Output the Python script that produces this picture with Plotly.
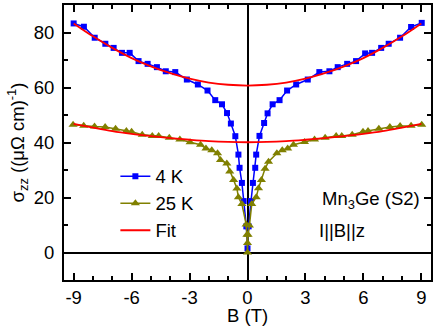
import plotly.graph_objects as go

# 4 K data (sigma_zz vs B)
b_4k = [-9.0, -8.47, -7.91, -7.36, -6.93, -6.5, -6.1, -5.64, -5.17, -4.69, -4.23, -3.74, -3.14, -2.57,
        -2.07, -1.67, -1.32, -1.06, -0.86, -0.63, -0.47, -0.41, -0.29, -0.2, -0.06, 0.0,
        0.06, 0.18, 0.28, 0.4, 0.45, 0.62, 0.86, 1.04, 1.3, 1.66, 2.05, 2.52, 3.12, 3.72, 4.24,
        4.67, 5.16, 5.62, 6.09, 6.45, 6.92, 7.31, 7.9, 8.47, 9.02]
s_4k = [83.3, 82.1, 78.1, 75.9, 74.4, 72.6, 72.6, 69.6, 68.6, 67.4, 65.9, 65.6, 62.9, 61.1,
        58.9, 55.4, 53.9, 50.7, 46.9, 42.3, 35.6, 30.8, 25.3, 18.7, 9.5, 1.5,
        9.5, 18.7, 25.3, 30.8, 35.6, 42.4, 47.1, 50.6, 53.9, 55.4, 58.9, 61.1, 62.9, 65.6, 65.9,
        67.4, 68.6, 69.6, 72.4, 72.6, 74.4, 75.9, 78.1, 82.0, 83.5]

# 25 K data
b_25k = [-9.03, -8.48, -7.92, -7.37, -6.83, -6.27, -6.0, -5.45, -4.93, -4.6, -4.05, -3.5, -2.97, -2.43,
         -2.15, -1.85, -1.55, -1.4, -1.07, -0.92, -0.72, -0.55, -0.47, -0.29, -0.07, -0.03, 0.0, 0.0,
         0.03, 0.1, 0.22, 0.45, 0.57, 0.72, 0.91, 1.09, 1.52, 1.8, 2.08, 2.38, 2.95, 3.47, 4.02,
         4.59, 4.88, 5.42, 5.98, 6.24, 6.8, 7.37, 7.9, 8.47, 9.02]
s_25k = [46.5, 46.1, 45.8, 45.6, 45.0, 44.2, 43.9, 42.8, 42.4, 42.4, 41.7, 41.1, 40.1, 39.2,
         37.8, 37.2, 36.1, 33.6, 32.4, 29.5, 26.4, 23.3, 20.1, 17.6, 10.2, 6.5, 3.5, 0.0,
         6.5, 9.8, 17.6, 20.1, 23.4, 26.4, 30.5, 33.0, 36.1, 37.2, 37.8, 39.2, 40.2, 41.1, 41.7,
         42.4, 42.4, 42.8, 43.9, 44.2, 45.0, 45.6, 46.0, 46.1, 46.5]

# Fit curves
b_fit = [-9, -8, -7, -6, -5, -4, -3, -2, -1, 0, 1, 2, 3, 4, 5, 6, 7, 8, 9]
fit_4k = [83.3, 78.6, 74.4, 70.7, 67.7, 65.2, 63.2, 61.8, 61.0, 60.7, 61.0, 61.8, 63.2, 65.2, 67.7, 70.7, 74.4, 78.6, 83.3]
fit_25k = [46.8, 45.4, 44.1, 43.1, 42.3, 41.6, 41.0, 40.5, 40.2, 40.1, 40.2, 40.5, 41.0, 41.6, 42.3, 43.1, 44.1, 45.4, 46.8]

x_ticks = [-9, -6, -3, 0, 3, 6, 9]
y_ticks = [0, 20, 40, 60, 80]

FONT = "Liberation Sans, Arial, sans-serif"
FS = 18.5

fig = go.Figure()
fig.add_trace(go.Scatter(x=b_4k, y=s_4k, mode="lines+markers", name="4 K",
                         line=dict(color="#0000ff", width=1.5),
                         marker=dict(symbol="square", size=6, color="#0000ff")))
fig.add_trace(go.Scatter(x=b_25k, y=s_25k, mode="lines+markers", name="25 K",
                         line=dict(color="#808000", width=1.5),
                         marker=dict(symbol="triangle-up", size=8, color="#808000")))
fig.add_trace(go.Scatter(x=b_fit, y=fit_4k, mode="lines", name="Fit",
                         line=dict(color="#ff0000", width=1.8, shape="spline")))
fig.add_trace(go.Scatter(x=b_fit, y=fit_25k, mode="lines", name="Fit", showlegend=False,
                         line=dict(color="#ff0000", width=1.8, shape="spline")))

fig.update_layout(
    width=436, height=326,
    margin=dict(l=64, r=3, t=5, b=46),
    paper_bgcolor="white", plot_bgcolor="white",
    font=dict(family=FONT, size=FS, color="black"),
    showlegend=True,
    legend=dict(x=0.14, y=0.445, xanchor="left", yanchor="top", bgcolor="rgba(0,0,0,0)",
                font=dict(size=FS), tracegroupgap=0, itemwidth=30),
    annotations=[
        dict(text="Mn<sub>3</sub>Ge (S2)", x=0.976, y=0.29, xref="paper", yref="paper",
             xanchor="right", yanchor="middle", showarrow=False, font=dict(size=FS)),
        dict(text="I||B||z", x=0.69, y=0.18, xref="paper", yref="paper",
             xanchor="left", yanchor="middle", showarrow=False, font=dict(size=FS)),
        dict(text="B (T)", x=0.5, y=-0.084, xref="paper", yref="paper",
             xanchor="center", yanchor="top", showarrow=False, font=dict(size=FS)),
    ],
)
fig.update_xaxes(range=[-9.5, 9.5], tickvals=x_ticks, ticktext=[str(v) for v in x_ticks],
                 ticks="inside", ticklen=7, tickwidth=1.5, tickcolor="black",
                 showline=True, linewidth=2, linecolor="black", mirror="allticks",
                 showgrid=False, zeroline=True, zerolinecolor="black", zerolinewidth=2,
                 minor=dict(ticks="inside", ticklen=4, tickwidth=1.5, dtick=1, tick0=0, tickcolor="black", showgrid=False))
fig.update_yaxes(range=[-10, 90], tickvals=y_ticks, ticktext=[str(v) for v in y_ticks],
                 ticks="inside", ticklen=7, tickwidth=1.5, tickcolor="black", ticklabelstandoff=4,
                 showline=True, linewidth=2, linecolor="black", mirror="allticks",
                 showgrid=False, zeroline=True, zerolinecolor="black", zerolinewidth=2,
                 minor=dict(ticks="inside", ticklen=4, tickwidth=1.5, dtick=10, tick0=0, tickcolor="black", showgrid=False),
                 title=dict(text="σ<sub>zz</sub> ((μΩ cm)<sup>-1</sup>)", standoff=4, font=dict(size=FS)))

fig.write_html("out.html", config={"displayModeBar": False},
               post_script="document.body.style.margin='0';document.body.style.padding='0';"
                           "document.documentElement.style.overflow='hidden';")
